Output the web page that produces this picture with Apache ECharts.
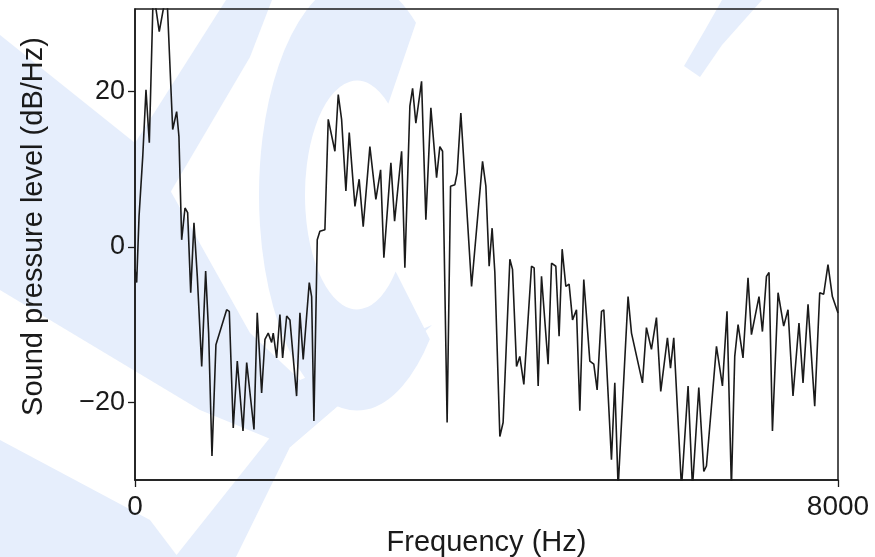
<!DOCTYPE html>
<html>
<head>
<meta charset="utf-8">
<script src="https://cdn.jsdelivr.net/npm/echarts@6/dist/echarts.min.js"></script>
<style>
  html, body { margin: 0; padding: 0; background: #fff; }
  #chart { width: 875px; height: 557px; }
</style>
</head>
<body>
<div id="chart"></div>
<script>
// spectrum (Hz, dB/Hz)
const freqs = [0, 19, 46, 88, 125, 163, 208, 276, 361, 429, 474, 500, 531, 569, 599, 634, 671, 709, 759, 804,
  838, 876, 921, 1043, 1073, 1118, 1164, 1229, 1271, 1354, 1391, 1441, 1479, 1516, 1555, 1573, 1612, 1649, 1680, 1726,
  1763, 1839, 1877, 1914, 1983, 2010, 2036, 2074, 2104, 2161, 2199, 2275, 2313, 2351, 2400, 2438, 2503, 2551, 2597, 2673,
  2741, 2795, 2832, 2912, 2954, 3034, 3071, 3128, 3159, 3196, 3261, 3310, 3367, 3432, 3469, 3500, 3552, 3591, 3640, 3666,
  3708, 3830, 3955, 3993, 4030, 4064, 4095, 4152, 4189, 4266, 4296, 4342, 4379, 4425, 4512, 4542, 4588, 4626, 4701, 4740,
  4789, 4826, 4861, 4903, 4940, 4979, 5024, 5062, 5107, 5176, 5221, 5259, 5309, 5335, 5422, 5460, 5498, 5611, 5650, 5775,
  5820, 5877, 5934, 5983, 6059, 6094, 6131, 6219, 6294, 6344, 6416, 6473, 6503, 6617, 6685, 6737, 6787, 6825, 6863, 6919,
  6976, 7015, 7101, 7140, 7186, 7215, 7254, 7318, 7382, 7431, 7488, 7556, 7602, 7659, 7735, 7792, 7837, 7886, 7936, 8000];
const levels = [-2.9, -4.6, 3.9, 11.6, 20.2, 13.4, 33, 27.7, 33, 15.1, 17.4, 14.2, 0.9, 5.0, 4.4, -5.9, 3.1, -3.8, -15.4, -3.1,
  -11.1, -26.9, -12.6, -8.1, -8.3, -23.3, -14.7, -23.7, -14.9, -23.5, -8.5, -18.8, -11.9, -11.1, -12.3, -11.1, -14.3, -8.7, -14.3, -8.9,
  -9.4, -19.2, -8.5, -14.5, -4.6, -6.4, -22.4, 0.9, 2.0, 2.2, 16.4, 12.3, 19.6, 16.4, 7.2, 14.7, 5.2, 8.7, 2.6, 12.9,
  6.1, 9.9, -1.4, 10.8, 3.3, 12.3, -2.7, 18.1, 20.4, 15.9, 21.3, 3.5, 17.9, 8.9, 12.9, 12.3, -22.6, 7.8, 8.0, 9.5,
  17.2, -5.1, 11.0, 7.8, -2.5, 2.4, -3.3, -24.4, -22.6, -1.6, -2.9, -15.4, -14.1, -17.7, -2.5, -2.7, -17.9, -3.8, -15.1, -2.1,
  -2.5, -11.5, -0.3, -5.1, -4.8, -9.4, -8.1, -21.1, -4.2, -14.7, -15.1, -18.4, -8.3, -8.1, -27.4, -17.5, -31, -6.4, -11.1, -17.5,
  -10.4, -13.2, -9.1, -18.6, -11.7, -15.6, -11.7, -31, -17.9, -31, -18.1, -28.9, -28.2, -12.8, -17.9, -8.3, -31, -14.1, -10.0, -14.3,
  -4.0, -11.3, -6.4, -10.9, -3.8, -3.3, -23.7, -5.9, -10.2, -8.1, -19.2, -9.8, -17.5, -7.4, -20.5, -5.9, -6.1, -2.3, -6.4, -8.5];
const yTicks = [-20, 0, 20];
const xTicks = [0, 8000];

const chart = echarts.init(document.getElementById('chart'));
const font = 'Liberation Sans, Arial, Helvetica, sans-serif';
const ink = '#1a1a1a';
const wash = '#e6eefc';

// pale background watermark (rough)
const washShapes = [
  [[0, 35], [135, 143], [170, 190], [250, 333], [300, 380], [432, 325], [290, 447], [200, 410], [0, 290]],
  [[226, 0], [272, 0], [250, 57], [170, 193], [135, 143]],
  [[432, 325], [290, 447], [236, 557], [175, 557], [280, 425]],
  [[0, 440], [150, 520], [178, 557], [0, 557]],
  [[722, 0], [762, 0], [722, 45], [700, 77], [684, 66], [705, 30]]
];
const washItems = washShapes.map(points => ({
  type: 'polygon',
  z: -10,
  silent: true,
  shape: { points },
  style: { fill: wash }
}));
washItems.push({
  type: 'arc',
  z: -10,
  silent: true,
  originX: 357,
  originY: 195,
  scaleY: 2.2,
  shape: { cx: 357, cy: 195, r: 75, startAngle: -53 * Math.PI / 180, endAngle: 42 * Math.PI / 180, clockwise: false },
  style: { stroke: wash, lineWidth: 46, fill: null }
});

chart.setOption({
  animation: false,
  backgroundColor: '#fff',
  graphic: washItems,
  grid: {
    left: 135,
    right: 37,
    top: 9,
    bottom: 77,
    outerBoundsMode: 'none',
    containLabel: false,
    show: true,
    borderColor: ink,
    borderWidth: 1.5,
    backgroundColor: 'transparent'
  },
  xAxis: {
    type: 'value',
    min: 0,
    max: 8000,
    interval: 8000,
    name: 'Frequency (Hz)',
    nameLocation: 'middle',
    nameGap: 48,
    nameTextStyle: { fontFamily: font, fontSize: 29, color: ink },
    axisLine: { show: true, onZero: false, lineStyle: { color: ink, width: 1.5 } },
    axisTick: { show: true, length: 7, customValues: xTicks, lineStyle: { color: ink, width: 1.3 } },
    axisLabel: { margin: 13, customValues: xTicks, fontFamily: font, fontSize: 28, color: ink, formatter: v => String(v) },
    splitLine: { show: false }
  },
  yAxis: {
    type: 'value',
    min: -30,
    max: 30.6,
    name: 'Sound pressure level (dB/Hz)',
    nameLocation: 'middle',
    nameRotate: 90,
    nameGap: 87,
    nameTextStyle: { fontFamily: font, fontSize: 29, color: ink, padding: [0, 0, 0, 36] },
    axisLine: { show: true, onZero: false, lineStyle: { color: ink, width: 1.5 } },
    axisTick: { show: true, length: 7, customValues: yTicks, lineStyle: { color: ink, width: 1.3 } },
    axisLabel: {
      margin: 10,
      customValues: yTicks,
      fontFamily: font,
      fontSize: 27,
      color: ink,
      formatter: v => (v < 0 ? '\u2212' + Math.abs(v) : String(v))
    },
    splitLine: { show: false }
  },
  series: [{
    type: 'line',
    data: freqs.map((f, i) => [f, levels[i]]),
    symbol: 'none',
    clip: true,
    lineStyle: { color: ink, width: 1.6 }
  }]
});
</script>
</body>
</html>
